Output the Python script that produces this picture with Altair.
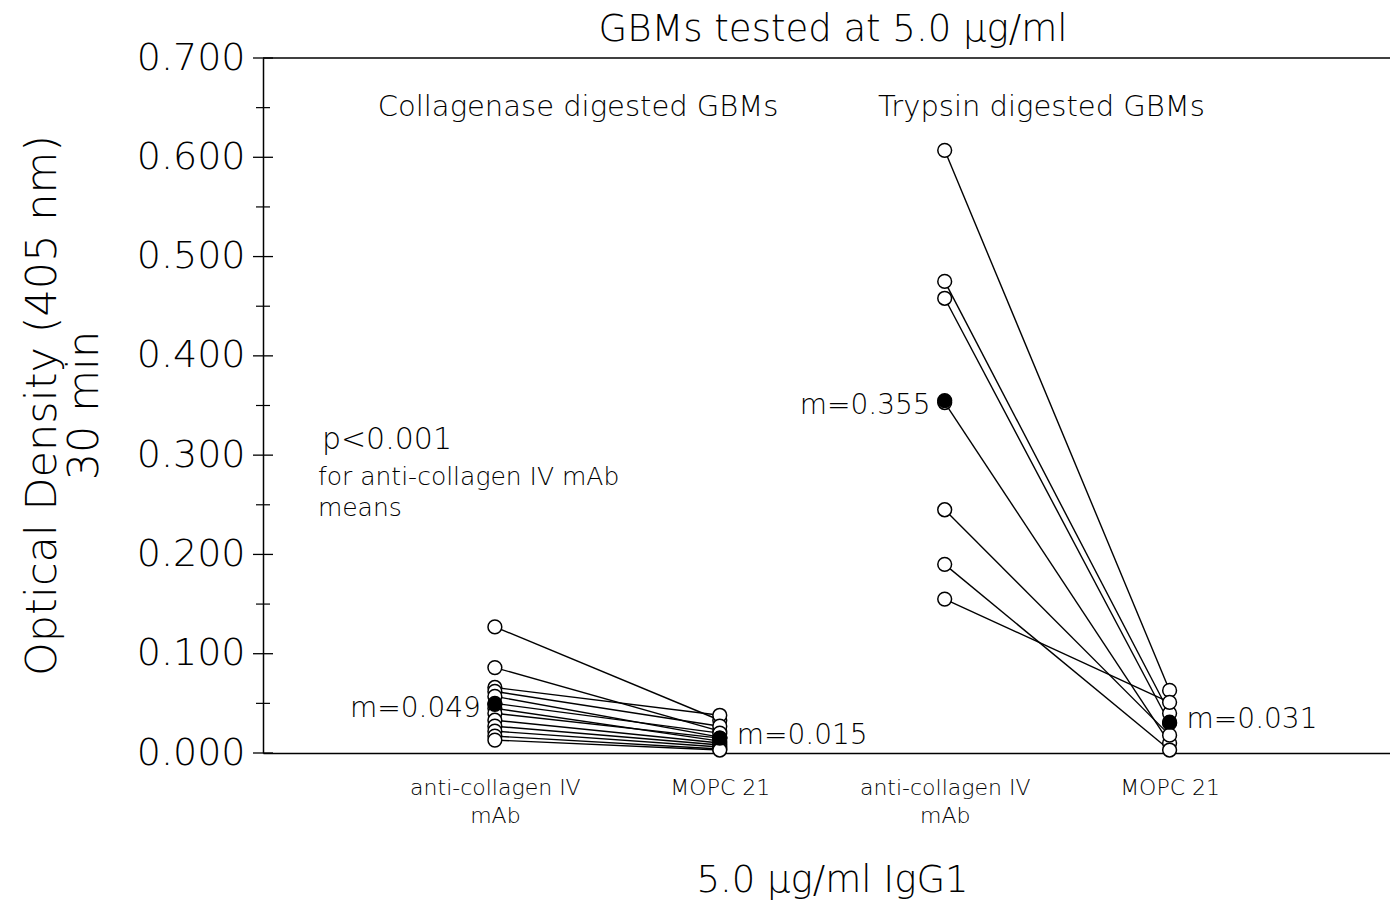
import altair as alt
import pandas as pd

FONT = "DejaVu Sans"
LIGHT = 200

# ---- data ----
chart_title = "GBMs tested at 5.0 μg/ml"
group_names = ["Collagenase digested GBMs", "Trypsin digested GBMs"]
antibody_labels = ["anti-collagen IV mAb", "MOPC 21"]

coll_anti = [0.127, 0.086, 0.066, 0.062, 0.057, 0.050, 0.045, 0.040, 0.033, 0.027, 0.022, 0.017, 0.013]
coll_mopc = [0.033, 0.022, 0.038, 0.027, 0.016, 0.020, 0.012, 0.015, 0.010, 0.008, 0.006, 0.004, 0.003]
tryp_anti = [0.607, 0.475, 0.458, 0.353, 0.245, 0.190, 0.155]
tryp_mopc = [0.063, 0.040, 0.030, 0.010, 0.018, 0.003, 0.051]

mean_values = [0.049, 0.015, 0.355, 0.031]
mean_labels = ["m=0.049", "m=0.015", "m=0.355", "m=0.031"]

y_major = [0.0, 0.1, 0.2, 0.3, 0.4, 0.5, 0.6, 0.7]
y_minor = [0.05, 0.15, 0.25, 0.35, 0.45, 0.55, 0.65]

notes = [
    {"text": group_names[0], "pos": 1.37, "od": 0.651, "size": 29},
    {"text": group_names[1], "pos": 3.43, "od": 0.651, "size": 29},
]
notes_left = [
    {"text": "p<0.001", "pos": 0.231, "od": 0.315, "size": 30},
    {"text": "for anti-collagen IV mAb", "pos": 0.213, "od": 0.278, "size": 25},
    {"text": "means", "pos": 0.213, "od": 0.247, "size": 25},
]

# ---- tables ----
rows = []
for gi, (anti, mopc) in enumerate([(coll_anti, coll_mopc), (tryp_anti, tryp_mopc)]):
    for i, (a, m) in enumerate(zip(anti, mopc)):
        pid = f"{gi}-{i}"
        rows.append({"pair": pid, "pos": 2 * gi + 1, "od": a})
        rows.append({"pair": pid, "pos": 2 * gi + 2, "od": m})
lines_df = pd.DataFrame(rows)

means_df = pd.DataFrame({
    "pos": [1, 2, 3, 4],
    "od": mean_values,
    "label": mean_labels,
    "kind": ["anti", "mopc", "anti", "mopc"],
})

W, H = 1127, 695
X_DOMAIN = [-0.031, 4.98]

x_axis = alt.Axis(
    values=[1, 2, 3, 4],
    labelExpr="(datum.value == 1 || datum.value == 3) ? ['anti-collagen IV', 'mAb'] : 'MOPC 21'",
    ticks=False,
    grid=False,
    domainColor="black",
    domainWidth=1.5,
    labelFont=FONT,
    labelFontSize=22,
    labelFontWeight=LIGHT,
    labelColor="black",
    labelPadding=34,
    labelLineHeight=28,
    labelBaseline="middle",
    title="5.0 μg/ml IgG1",
    titleFont=FONT,
    titleFontSize=37,
    titleFontWeight=LIGHT,
    titleColor="black",
    titleX=569,
    titleY=127,
    titleBaseline="middle",
    titleAnchor="start",
    titleAlign="center",
)
y_axis = alt.Axis(
    values=y_major,
    format=".3f",
    ticks=False,
    grid=False,
    domainColor="black",
    domainWidth=1.5,
    labelFont=FONT,
    labelFontSize=38,
    labelFontWeight=LIGHT,
    labelColor="black",
    labelPadding=18,
    title=["Optical Density (405 nm)", "30 min"],
    titleFont=FONT,
    titleFontSize=43,
    titleFontWeight=LIGHT,
    titleColor="black",
    titleLineHeight=42,
    titleX=-221,
    titleY=347,
    titleAngle=270,
    titleAlign="center",
    titleBaseline="middle",
)

X = alt.X("pos:Q", scale=alt.Scale(domain=X_DOMAIN, nice=False, zero=False), axis=x_axis)
Y = alt.Y("od:Q", scale=alt.Scale(domain=[0, 0.7], nice=False, zero=False), axis=y_axis)

lines = alt.Chart(lines_df).mark_line(color="black", strokeWidth=1.4).encode(
    x=X, y=Y, detail="pair:N"
)
points = alt.Chart(lines_df).mark_point(
    shape="circle", filled=True, fill="white", stroke="black", strokeWidth=1.5, size=190, opacity=1
).encode(x=X, y=Y)
means = alt.Chart(means_df).mark_point(
    shape="circle", filled=True, fill="black", stroke="black", strokeWidth=1.5, size=190, opacity=1
).encode(x=X, y=Y)

mean_text_anti = alt.Chart(means_df).transform_filter("datum.kind == 'anti'").mark_text(
    align="right", baseline="middle", dx=-14, dy=5, font=FONT, fontSize=28, fontWeight=LIGHT, color="black"
).encode(x=X, y=Y, text="label:N")
mean_text_mopc = alt.Chart(means_df).transform_filter("datum.kind == 'mopc'").mark_text(
    align="left", baseline="middle", dx=17, dy=-2, font=FONT, fontSize=28, fontWeight=LIGHT, color="black"
).encode(x=X, y=Y, text="label:N")

notes_c = alt.Chart(pd.DataFrame(notes)).mark_text(
    align="center", baseline="middle", font=FONT, fontWeight=LIGHT, color="black"
).encode(x=X, y=Y, text="text:N", size=alt.Size("size:Q", scale=None, legend=None))
notes_l = alt.Chart(pd.DataFrame(notes_left)).mark_text(
    align="left", baseline="middle", font=FONT, fontWeight=LIGHT, color="black"
).encode(x=X, y=Y, text="text:N", size=alt.Size("size:Q", scale=None, legend=None))

title_text = alt.Chart(pd.DataFrame({"text": [chart_title]})).mark_text(
    align="center", baseline="middle", font=FONT, fontSize=37, fontWeight=LIGHT, color="black"
).encode(x=alt.value(570), y=alt.value(-28), text="text:N")

major_ticks = alt.Chart(pd.DataFrame({"od": y_major})).mark_rule(color="black", strokeWidth=1.3).encode(
    x=alt.value(-10), x2=alt.value(10), y=Y
)
minor_ticks = alt.Chart(pd.DataFrame({"od": y_minor})).mark_rule(color="black", strokeWidth=1.2).encode(
    x=alt.value(-7), x2=alt.value(7), y=Y
)
top_border = alt.Chart(pd.DataFrame({"od": [0.7]})).mark_rule(color="black", strokeWidth=1.5).encode(
    x=alt.value(0), x2=alt.value(W), y=Y
)

chart = alt.layer(
    top_border, major_ticks, minor_ticks, lines, points, means,
    mean_text_anti, mean_text_mopc, notes_c, notes_l, title_text
).properties(
    width=W,
    height=H,
    autosize=alt.AutoSizeParams(type="none"),
    padding={"left": 263, "top": 58, "right": 0, "bottom": 150},
    background="white",
).configure_view(stroke=None)

chart.save("out.html", embed_options={"renderer": "svg", "actions": False})
